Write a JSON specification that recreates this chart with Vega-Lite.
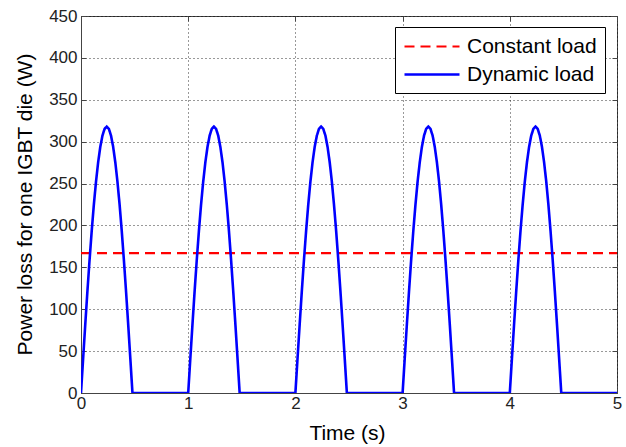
{
  "$schema": "https://vega.github.io/schema/vega-lite/v6.json",
  "autosize": "none",
  "padding": {"left": 81, "top": 16, "right": 9, "bottom": 54},
  "width": 536,
  "height": 377,
  "background": "white",
  "config": {
    "font": "Liberation Sans",
    "view": {"stroke": "#444", "strokeWidth": 1},
    "axis": {
      "labelFont": "Liberation Sans",
      "titleFont": "Liberation Sans",
      "labelFontSize": 17,
      "titleFontSize": 21,
      "titleFontWeight": "normal",
      "labelColor": "#222",
      "titleColor": "#000",
      "domainColor": "#444",
      "tickColor": "#444",
      "gridColor": "#000",
      "gridOpacity": 0.8,
      "gridDash": [1, 3],
      "gridWidth": 1
    },
    "legend": {
      "labelFont": "Liberation Sans",
      "labelFontSize": 21,
      "labelColor": "#000"
    }
  },
  "data": {
    "values": [
      {"t": 0, "p": 167, "s": "Constant load"},
      {"t": 5, "p": 167, "s": "Constant load"},
      {"t": 0.00, "p": 0, "s": "Dynamic load"},
      {"t": 0.02, "p": 41.5, "s": "Dynamic load"},
      {"t": 0.04, "p": 82.3, "s": "Dynamic load"},
      {"t": 0.06, "p": 121.7, "s": "Dynamic load"},
      {"t": 0.08, "p": 159, "s": "Dynamic load"},
      {"t": 0.10, "p": 193.6, "s": "Dynamic load"},
      {"t": 0.12, "p": 224.9, "s": "Dynamic load"},
      {"t": 0.14, "p": 252.3, "s": "Dynamic load"},
      {"t": 0.16, "p": 275.4, "s": "Dynamic load"},
      {"t": 0.18, "p": 293.8, "s": "Dynamic load"},
      {"t": 0.20, "p": 307.2, "s": "Dynamic load"},
      {"t": 0.22, "p": 315.3, "s": "Dynamic load"},
      {"t": 0.24, "p": 318, "s": "Dynamic load"},
      {"t": 0.26, "p": 315.3, "s": "Dynamic load"},
      {"t": 0.28, "p": 307.2, "s": "Dynamic load"},
      {"t": 0.30, "p": 293.8, "s": "Dynamic load"},
      {"t": 0.32, "p": 275.4, "s": "Dynamic load"},
      {"t": 0.34, "p": 252.3, "s": "Dynamic load"},
      {"t": 0.36, "p": 224.9, "s": "Dynamic load"},
      {"t": 0.38, "p": 193.6, "s": "Dynamic load"},
      {"t": 0.40, "p": 159, "s": "Dynamic load"},
      {"t": 0.42, "p": 121.7, "s": "Dynamic load"},
      {"t": 0.44, "p": 82.3, "s": "Dynamic load"},
      {"t": 0.46, "p": 41.5, "s": "Dynamic load"},
      {"t": 0.48, "p": 0, "s": "Dynamic load"},
      {"t": 1.00, "p": 0, "s": "Dynamic load"},
      {"t": 1.02, "p": 41.5, "s": "Dynamic load"},
      {"t": 1.04, "p": 82.3, "s": "Dynamic load"},
      {"t": 1.06, "p": 121.7, "s": "Dynamic load"},
      {"t": 1.08, "p": 159, "s": "Dynamic load"},
      {"t": 1.10, "p": 193.6, "s": "Dynamic load"},
      {"t": 1.12, "p": 224.9, "s": "Dynamic load"},
      {"t": 1.14, "p": 252.3, "s": "Dynamic load"},
      {"t": 1.16, "p": 275.4, "s": "Dynamic load"},
      {"t": 1.18, "p": 293.8, "s": "Dynamic load"},
      {"t": 1.20, "p": 307.2, "s": "Dynamic load"},
      {"t": 1.22, "p": 315.3, "s": "Dynamic load"},
      {"t": 1.24, "p": 318, "s": "Dynamic load"},
      {"t": 1.26, "p": 315.3, "s": "Dynamic load"},
      {"t": 1.28, "p": 307.2, "s": "Dynamic load"},
      {"t": 1.30, "p": 293.8, "s": "Dynamic load"},
      {"t": 1.32, "p": 275.4, "s": "Dynamic load"},
      {"t": 1.34, "p": 252.3, "s": "Dynamic load"},
      {"t": 1.36, "p": 224.9, "s": "Dynamic load"},
      {"t": 1.38, "p": 193.6, "s": "Dynamic load"},
      {"t": 1.40, "p": 159, "s": "Dynamic load"},
      {"t": 1.42, "p": 121.7, "s": "Dynamic load"},
      {"t": 1.44, "p": 82.3, "s": "Dynamic load"},
      {"t": 1.46, "p": 41.5, "s": "Dynamic load"},
      {"t": 1.48, "p": 0, "s": "Dynamic load"},
      {"t": 2.00, "p": 0, "s": "Dynamic load"},
      {"t": 2.02, "p": 41.5, "s": "Dynamic load"},
      {"t": 2.04, "p": 82.3, "s": "Dynamic load"},
      {"t": 2.06, "p": 121.7, "s": "Dynamic load"},
      {"t": 2.08, "p": 159, "s": "Dynamic load"},
      {"t": 2.10, "p": 193.6, "s": "Dynamic load"},
      {"t": 2.12, "p": 224.9, "s": "Dynamic load"},
      {"t": 2.14, "p": 252.3, "s": "Dynamic load"},
      {"t": 2.16, "p": 275.4, "s": "Dynamic load"},
      {"t": 2.18, "p": 293.8, "s": "Dynamic load"},
      {"t": 2.20, "p": 307.2, "s": "Dynamic load"},
      {"t": 2.22, "p": 315.3, "s": "Dynamic load"},
      {"t": 2.24, "p": 318, "s": "Dynamic load"},
      {"t": 2.26, "p": 315.3, "s": "Dynamic load"},
      {"t": 2.28, "p": 307.2, "s": "Dynamic load"},
      {"t": 2.30, "p": 293.8, "s": "Dynamic load"},
      {"t": 2.32, "p": 275.4, "s": "Dynamic load"},
      {"t": 2.34, "p": 252.3, "s": "Dynamic load"},
      {"t": 2.36, "p": 224.9, "s": "Dynamic load"},
      {"t": 2.38, "p": 193.6, "s": "Dynamic load"},
      {"t": 2.40, "p": 159, "s": "Dynamic load"},
      {"t": 2.42, "p": 121.7, "s": "Dynamic load"},
      {"t": 2.44, "p": 82.3, "s": "Dynamic load"},
      {"t": 2.46, "p": 41.5, "s": "Dynamic load"},
      {"t": 2.48, "p": 0, "s": "Dynamic load"},
      {"t": 3.00, "p": 0, "s": "Dynamic load"},
      {"t": 3.02, "p": 41.5, "s": "Dynamic load"},
      {"t": 3.04, "p": 82.3, "s": "Dynamic load"},
      {"t": 3.06, "p": 121.7, "s": "Dynamic load"},
      {"t": 3.08, "p": 159, "s": "Dynamic load"},
      {"t": 3.10, "p": 193.6, "s": "Dynamic load"},
      {"t": 3.12, "p": 224.9, "s": "Dynamic load"},
      {"t": 3.14, "p": 252.3, "s": "Dynamic load"},
      {"t": 3.16, "p": 275.4, "s": "Dynamic load"},
      {"t": 3.18, "p": 293.8, "s": "Dynamic load"},
      {"t": 3.20, "p": 307.2, "s": "Dynamic load"},
      {"t": 3.22, "p": 315.3, "s": "Dynamic load"},
      {"t": 3.24, "p": 318, "s": "Dynamic load"},
      {"t": 3.26, "p": 315.3, "s": "Dynamic load"},
      {"t": 3.28, "p": 307.2, "s": "Dynamic load"},
      {"t": 3.30, "p": 293.8, "s": "Dynamic load"},
      {"t": 3.32, "p": 275.4, "s": "Dynamic load"},
      {"t": 3.34, "p": 252.3, "s": "Dynamic load"},
      {"t": 3.36, "p": 224.9, "s": "Dynamic load"},
      {"t": 3.38, "p": 193.6, "s": "Dynamic load"},
      {"t": 3.40, "p": 159, "s": "Dynamic load"},
      {"t": 3.42, "p": 121.7, "s": "Dynamic load"},
      {"t": 3.44, "p": 82.3, "s": "Dynamic load"},
      {"t": 3.46, "p": 41.5, "s": "Dynamic load"},
      {"t": 3.48, "p": 0, "s": "Dynamic load"},
      {"t": 4.00, "p": 0, "s": "Dynamic load"},
      {"t": 4.02, "p": 41.5, "s": "Dynamic load"},
      {"t": 4.04, "p": 82.3, "s": "Dynamic load"},
      {"t": 4.06, "p": 121.7, "s": "Dynamic load"},
      {"t": 4.08, "p": 159, "s": "Dynamic load"},
      {"t": 4.10, "p": 193.6, "s": "Dynamic load"},
      {"t": 4.12, "p": 224.9, "s": "Dynamic load"},
      {"t": 4.14, "p": 252.3, "s": "Dynamic load"},
      {"t": 4.16, "p": 275.4, "s": "Dynamic load"},
      {"t": 4.18, "p": 293.8, "s": "Dynamic load"},
      {"t": 4.20, "p": 307.2, "s": "Dynamic load"},
      {"t": 4.22, "p": 315.3, "s": "Dynamic load"},
      {"t": 4.24, "p": 318, "s": "Dynamic load"},
      {"t": 4.26, "p": 315.3, "s": "Dynamic load"},
      {"t": 4.28, "p": 307.2, "s": "Dynamic load"},
      {"t": 4.30, "p": 293.8, "s": "Dynamic load"},
      {"t": 4.32, "p": 275.4, "s": "Dynamic load"},
      {"t": 4.34, "p": 252.3, "s": "Dynamic load"},
      {"t": 4.36, "p": 224.9, "s": "Dynamic load"},
      {"t": 4.38, "p": 193.6, "s": "Dynamic load"},
      {"t": 4.40, "p": 159, "s": "Dynamic load"},
      {"t": 4.42, "p": 121.7, "s": "Dynamic load"},
      {"t": 4.44, "p": 82.3, "s": "Dynamic load"},
      {"t": 4.46, "p": 41.5, "s": "Dynamic load"},
      {"t": 4.48, "p": 0, "s": "Dynamic load"},
      {"t": 5.00, "p": 0, "s": "Dynamic load"}
    ]
  },
  "layer": [
    {
      "mark": {"type": "line", "clip": true},
      "encoding": {
        "x": {
          "field": "t", "type": "quantitative",
          "scale": {"domain": [0, 5], "nice": false, "zero": false},
          "axis": {
            "title": "Time (s)",
            "values": [0, 1, 2, 3, 4, 5],
            "format": "d",
            "tickSize": -5,
            "labelPadding": 7,
            "titleX": 266, "titleY": 46,
            "titleBaseline": "alphabetic",
            "labelFlush": false
          }
        },
        "y": {
          "field": "p", "type": "quantitative",
          "scale": {"domain": [0, 450], "nice": false},
          "axis": {
            "title": "Power loss for one IGBT die (W)",
            "values": [0, 50, 100, 150, 200, 250, 300, 350, 400, 450],
            "tickSize": -5,
            "labelPadding": 9,
            "titleX": -50, "titleY": 188,
            "titleBaseline": "alphabetic",
            "titleAngle": -90,
            "labelFlush": false
          }
        },
        "color": {
          "field": "s", "type": "nominal",
          "scale": {"domain": ["Constant load", "Dynamic load"], "range": ["#ff0000", "#0000ff"]},
          "legend": {
            "title": null,
            "orient": "none",
            "legendX": 314,
            "legendY": 11,
            "symbolType": "M-1,0H4.5",
            "symbolSize": 400,
            "symbolStrokeWidth": 2.5,
            "strokeColor": "#000",
            "fillColor": "#fff",
            "padding": 8,
            "rowPadding": 6,
            "labelOffset": 41
          }
        },
        "strokeDash": {
          "field": "s", "type": "nominal",
          "scale": {"domain": ["Constant load", "Dynamic load"], "range": [[10, 6], [1, 0]]},
          "legend": null
        },
        "strokeWidth": {
          "field": "s", "type": "nominal",
          "scale": {"domain": ["Constant load", "Dynamic load"], "range": [2.2, 2.6]},
          "legend": null
        }
      }
    },
    {
      "mark": {"type": "point", "opacity": 0},
      "encoding": {
        "x": {
          "field": "t", "type": "quantitative",
          "axis": {"orient": "top", "values": [0, 1, 2, 3, 4, 5], "labels": false, "title": null, "grid": false, "domain": false, "tickSize": -5}
        },
        "y": {
          "field": "p", "type": "quantitative",
          "axis": {"orient": "right", "values": [0, 50, 100, 150, 200, 250, 300, 350, 400, 450], "labels": false, "title": null, "grid": false, "domain": false, "tickSize": -5}
        }
      }
    }
  ],
  "resolve": {"axis": {"x": "independent", "y": "independent"}}
}
